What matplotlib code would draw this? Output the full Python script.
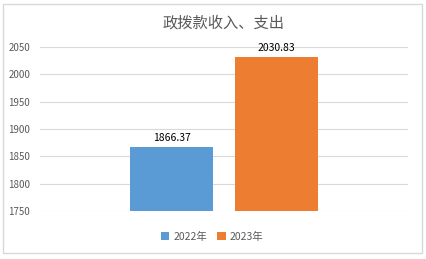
import numpy as np
import matplotlib.pyplot as plt
from matplotlib.patches import Rectangle

plt.rcParams['font.family'] = ['Noto Sans CJK SC', 'DejaVu Sans']

series = ['2022年', '2023年']
values = [1866.37, 2030.83]
colors = ['#5b9bd5', '#ed7d31']
yticks = [1750, 1800, 1850, 1900, 1950, 2000, 2050]

W, H = 427, 259
fig = plt.figure(figsize=(W / 100, H / 100), dpi=100)
fig.patches.append(Rectangle((3.5 / W, 6.5 / H), 419 / W, 249 / H, transform=fig.transFigure,
                             fill=False, edgecolor='#d9d9d9', linewidth=1))

ax = fig.add_axes([40 / W, 1 - 211 / H, 368 / W, 164 / H])

bw = 83 / 368
off = (83 + 22) / 2 / 368
pos = [-off, off]
for p, v, c, s in zip(pos, values, colors, series):
    ax.bar(p, v - 1750, bottom=1750, width=bw, color=c, label=s, zorder=3)
    ax.text(p, v + 8, f'{v:.2f}', ha='center', va='bottom', fontsize=7.5, color='#000000')

ax.set_xlim(-0.5, 0.5)
ax.set_ylim(1750, 2050)
ax.set_yticks(yticks)
ax.set_xticks([])
ax.grid(axis='y', color='#d9d9d9', linewidth=0.8, zorder=0)
for sp in ax.spines.values():
    sp.set_visible(False)
ax.tick_params(axis='y', length=0, labelsize=7, labelcolor='#595959', pad=7)

fig.text(224 / W, 1 - 23 / H, '政拨款收入、支出', ha='center', va='center', fontsize=11, color='#595959')

ax.legend(loc='center', bbox_to_anchor=(212 / W, 1 - 237 / H), bbox_transform=fig.transFigure,
          ncol=2, frameon=False, fontsize=7.5, labelcolor='#595959', handlelength=0.8, handleheight=0.8,
          handletextpad=0.4, columnspacing=1.0)

fig.savefig('out.png', dpi=100)
